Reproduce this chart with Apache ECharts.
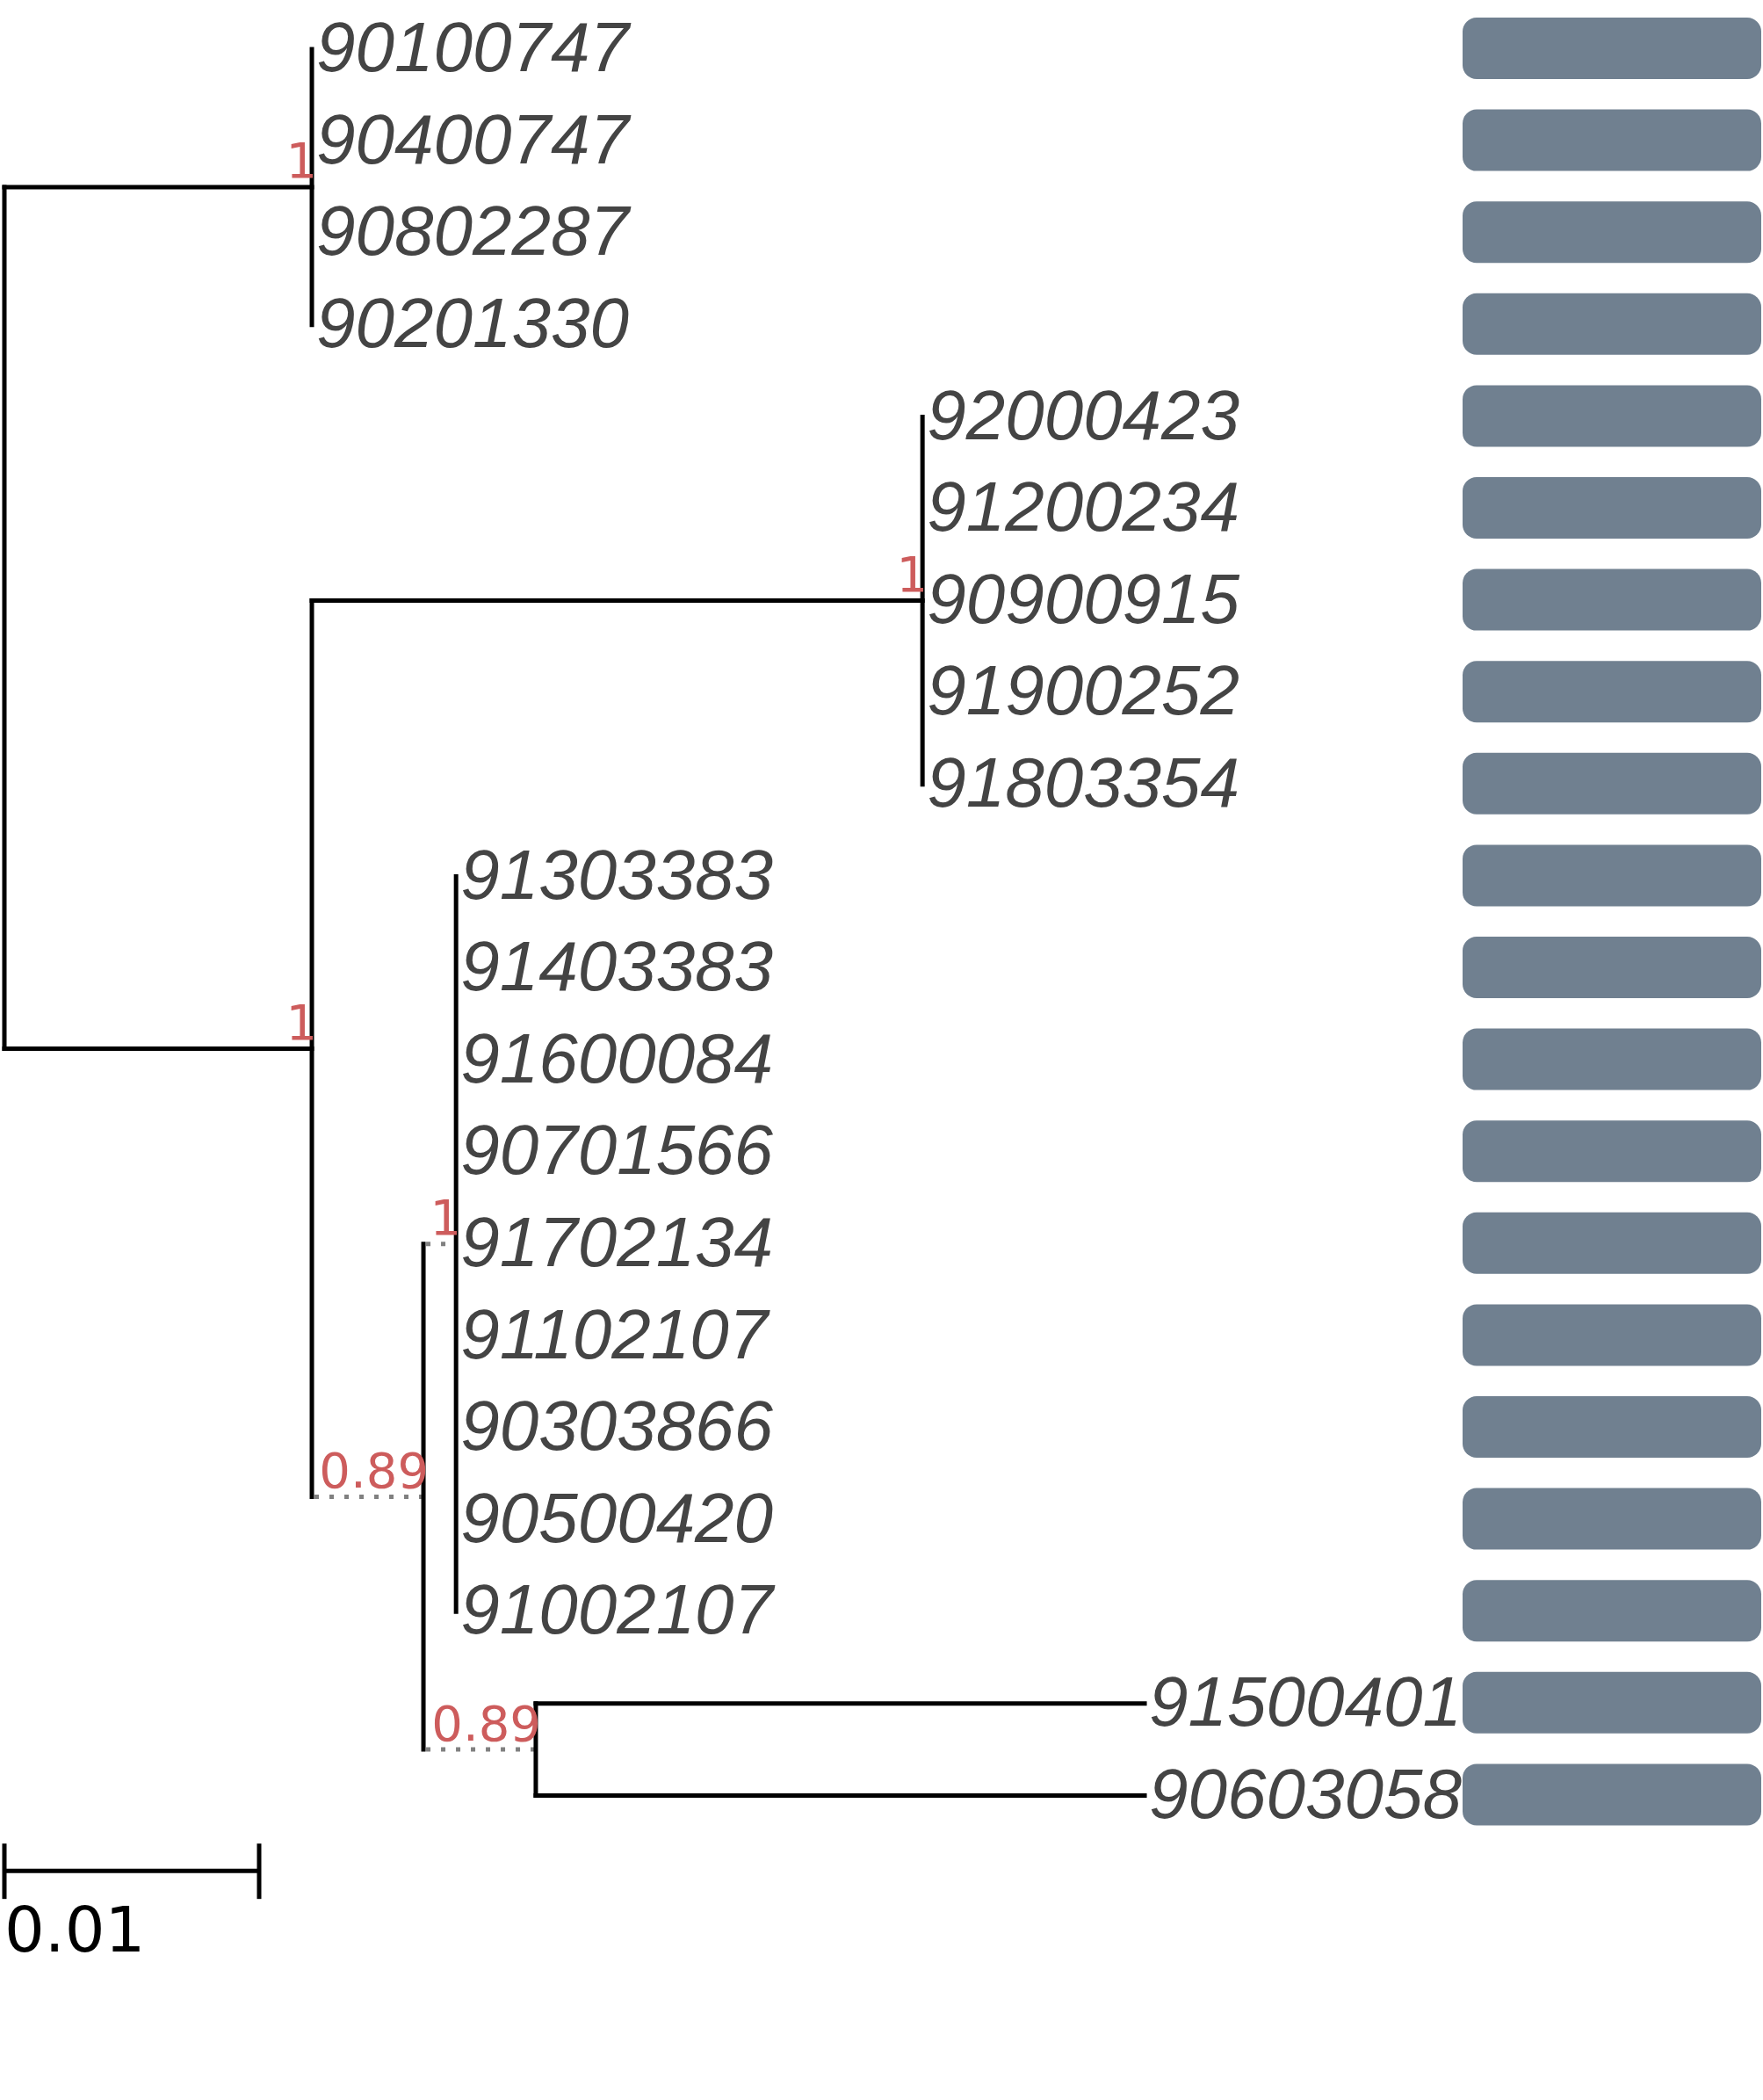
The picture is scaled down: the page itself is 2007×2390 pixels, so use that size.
<!DOCTYPE html>
<html>
<head>
<meta charset="utf-8">
<script src="https://cdn.jsdelivr.net/npm/echarts@6/dist/echarts.min.js"></script>
<style>
html, body { margin: 0; padding: 0; background: #fff; }
#main { width: 2007px; height: 2390px; }
</style>
</head>
<body>
<div id="main"></div>
<script>
// tip names, top to bottom
var leafNames = ['90100747', '90400747', '90802287', '90201330',
    '92000423', '91200234', '90900915', '91900252', '91803354',
    '91303383', '91403383', '91600084', '90701566', '91702134', '91102107', '90303866', '90500420', '91002107',
    '91500401', '90603058'];
var leafParent = ['A', 'A', 'A', 'A',
    'C', 'C', 'C', 'C', 'C',
    'E', 'E', 'E', 'E', 'E', 'E', 'E', 'E', 'E',
    'F', 'F'];
var leafLength = [0, 0, 0, 0,
    0, 0, 0, 0, 0,
    0, 0, 0, 0, 0, 0, 0, 0, 0,
    0.0239, 0.0239];

// internal nodes (parents listed before children)
var nodeNames = ['root', 'A', 'B', 'C', 'D', 'E', 'F'];
var nodeParent = [null, 'root', 'root', 'B', 'B', 'D', 'D'];
var nodeLength = [0, 0.01207, 0.01207, 0.02397, 0.00438, 0.00128, 0.00441];
var nodeSupport = [null, 1, 1, 1, 0.89, 1, 0.89];
var nodeDotted = [false, false, false, false, true, true, true];

// right hand column
var barValues = [1, 1, 1, 1, 1, 1, 1, 1, 1, 1, 1, 1, 1, 1, 1, 1, 1, 1, 1, 1];
var scaleBar = 0.01;

// layout of the tree from the arrays above
var xPos = {}, yPos = {}, kids = {};
nodeNames.forEach(function (n, i) {
    kids[n] = [];
    xPos[n] = nodeParent[i] ? xPos[nodeParent[i]] + nodeLength[i] : 0;
    if (nodeParent[i]) kids[nodeParent[i]].push(n);
});
leafNames.forEach(function (n, i) {
    kids[leafParent[i]].push(n);
    xPos[n] = xPos[leafParent[i]] + leafLength[i];
    yPos[n] = i;
});
function placeY(n) {
    if (yPos[n] != null) return yPos[n];
    var c = kids[n];
    var a = placeY(c[0]), b = placeY(c[c.length - 1]);
    yPos[n] = (a + b) / 2;
    return yPos[n];
}
placeY('root');

var items = [];
nodeNames.forEach(function (n, i) {
    var c = kids[n];
    items.push({
        x: xPos[n], y: yPos[n],
        px: nodeParent[i] ? xPos[nodeParent[i]] : null,
        y1: yPos[c[0]], y2: yPos[c[c.length - 1]],
        support: nodeSupport[i], dotted: nodeDotted[i]
    });
});
leafNames.forEach(function (n, i) {
    items.push({ x: xPos[n], y: yPos[n], px: xPos[leafParent[i]], label: n });
});

var solid = { stroke: '#000', lineWidth: 5, lineCap: 'square' };
var dotted = { stroke: '#808080', lineWidth: 5, lineDash: [5, 12] };

function renderTree(params, api) {
    var it = items[params.dataIndex];
    var p = api.coord([it.x, it.y]);
    var out = [];
    if (it.px != null && it.x > it.px) {
        var pp = api.coord([it.px, it.y]);
        out.push({ type: 'line', shape: { x1: pp[0] + (it.dotted ? 3 : 0), y1: p[1], x2: p[0], y2: p[1] },
            style: it.dotted ? dotted : solid });
    }
    if (it.y1 != null) {
        var a = api.coord([it.x, it.y1]), b = api.coord([it.x, it.y2]);
        out.push({ type: 'line', shape: { x1: p[0], y1: a[1], x2: p[0], y2: b[1] }, style: solid });
    }
    if (it.support != null) {
        out.push({ type: 'text', x: p[0] + 6, y: p[1] + 3, z2: 5, style: {
            text: String(it.support), fill: '#CD5C5C', font: '56px "DejaVu Sans"',
            align: 'right', verticalAlign: 'bottom' } });
    }
    if (it.label) {
        out.push({ type: 'text', x: p[0] + 5, y: p[1] + 3, style: {
            text: it.label, fill: '#444', font: 'italic 80px "Liberation Sans"',
            align: 'left', verticalAlign: 'middle' } });
    }
    return { type: 'group', children: out };
}

function renderScale(params, api) {
    var a = api.coord([0, 19.82]), b = api.coord([scaleBar, 19.82]);
    var t = api.coord([0, 20.52]);
    var bar = { stroke: '#000', lineWidth: 5 };
    return { type: 'group', children: [
        { type: 'line', shape: { x1: a[0], y1: a[1], x2: b[0], y2: b[1] }, style: bar },
        { type: 'line', shape: { x1: a[0], y1: a[1] - 31, x2: a[0], y2: a[1] + 32 }, style: bar },
        { type: 'line', shape: { x1: b[0], y1: b[1] - 31, x2: b[0], y2: b[1] + 32 }, style: bar },
        { type: 'text', x: t[0], y: t[1], style: { text: String(scaleBar), fill: '#000',
            font: '72px "DejaVu Sans"', align: 'left', verticalAlign: 'middle' } }
    ] };
}

var myChart = echarts.init(document.getElementById('main'), null, { renderer: 'canvas' });
var option = {
    animation: false,
    backgroundColor: '#fff',
    grid: [
        { left: 5, top: 56, width: 1670.4, height: 1987.4 },
        { left: 1665, right: 2, top: 2.7, height: 2092 }
    ],
    xAxis: [
        { type: 'value', gridIndex: 0, min: 0, max: 0.0576, show: false },
        { type: 'value', gridIndex: 1, min: 0, max: 1, show: false }
    ],
    yAxis: [
        { type: 'value', gridIndex: 0, min: 0, max: 19, inverse: true, show: false },
        { type: 'category', gridIndex: 1, data: leafNames, inverse: true, show: false }
    ],
    series: [
        { type: 'custom', xAxisIndex: 0, yAxisIndex: 0, renderItem: renderTree, clip: false,
          data: items.map(function (it) { return [it.x, it.y]; }) },
        { type: 'custom', xAxisIndex: 0, yAxisIndex: 0, renderItem: renderScale, clip: false,
          data: [[0, 19.82]] },
        { type: 'bar', xAxisIndex: 1, yAxisIndex: 1, data: barValues, barWidth: 70,
          itemStyle: { color: '#708090', borderRadius: 16 } }
    ]
};
myChart.setOption(option);
</script>
</body>
</html>
